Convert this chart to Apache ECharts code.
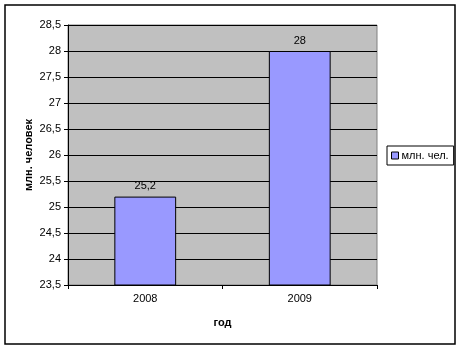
<!DOCTYPE html>
<html>
<head>
<meta charset="utf-8">
<script src="https://cdn.jsdelivr.net/npm/echarts@6/dist/echarts.min.js"></script>
<style>
html,body{margin:0;padding:0;background:#fff;}
#c{width:462px;height:350px;}
</style>
</head>
<body>
<div id="c"></div>
<script>
var categories = ['2008', '2009'];
var values = [25.2, 28];
var seriesName = 'млн. чел.';
var yName = 'млн. человек';
var xName = 'год';

var chart = echarts.init(document.getElementById('c'), null, {renderer: 'canvas'});
var font = '"Liberation Sans", Arial, sans-serif';
function comma(v){ return String(v).replace('.', ','); }
chart.setOption({
  animation: false,
  textStyle: {fontFamily: font},
  graphic: [{
    type: 'rect',
    shape: {x: 5, y: 5, width: 450, height: 339},
    style: {fill: 'none', stroke: '#000', lineWidth: 1.5},
    z: 100
  }],
  grid: {
    left: 68, right: 85, top: 25, bottom: 65,
    show: true, backgroundColor: '#C0C0C0', borderColor: '#808080', borderWidth: 1
  },
  legend: {
    data: [seriesName],
    left: 387, top: 146,
    orient: 'vertical',
    padding: [4, 5, 4, 4],
    itemGap: 0,
    borderColor: '#000', borderWidth: 1,
    backgroundColor: '#fff',
    icon: 'rect', itemWidth: 7, itemHeight: 7,
    itemStyle: {borderColor: '#000', borderWidth: 1},
    textStyle: {fontFamily: font, fontSize: 11, color: '#000', padding: [0, 0, 0, -2]}
  },
  xAxis: {
    type: 'category',
    data: categories,
    name: xName,
    nameLocation: 'middle',
    nameGap: 32,
    nameMoveOverlap: false,
    nameTextStyle: {fontFamily: font, fontSize: 11, fontWeight: 'bold', color: '#000'},
    axisLine: {lineStyle: {color: '#000', width: 1}},
    axisTick: {show: true, inside: false, length: 4, lineStyle: {color: '#000'}},
    axisLabel: {fontFamily: font, fontSize: 11, color: '#000', margin: 8},
    splitLine: {show: false}
  },
  yAxis: {
    type: 'value',
    min: 23.5, max: 28.5, interval: 0.5,
    name: yName,
    nameLocation: 'middle',
    nameGap: 34,
    nameMoveOverlap: false,
    nameRotate: 90,
    nameTextStyle: {fontFamily: font, fontSize: 11, fontWeight: 'bold', color: '#000'},
    axisLine: {show: true, lineStyle: {color: '#000', width: 1}},
    axisTick: {show: true, inside: false, length: 4, lineStyle: {color: '#000'}},
    axisLabel: {fontFamily: font, fontSize: 11, color: '#000', margin: 7, formatter: comma},
    splitLine: {show: true, lineStyle: {color: '#000', width: 1}}
  },
  series: [{
    name: seriesName,
    type: 'bar',
    data: values,
    barWidth: '40%',
    itemStyle: {color: '#9999FF', borderColor: '#000', borderWidth: 1},
    label: {
      show: true, position: 'top', distance: 5,
      fontFamily: font, fontSize: 11, color: '#000',
      formatter: function(p){ return comma(p.value); }
    }
  }]
});
</script>
</body>
</html>
